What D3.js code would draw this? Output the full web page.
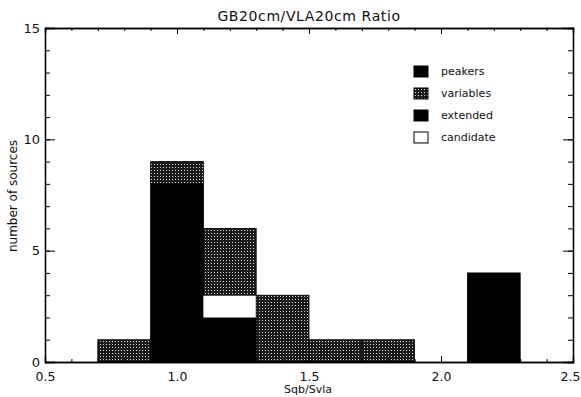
<!DOCTYPE html>
<html>
<head>
<meta charset="utf-8">
<script src="https://cdn.jsdelivr.net/npm/d3@7"></script>
<style>
  body { margin: 0; background: #fff; }
  text { font-family: "DejaVu Sans", sans-serif; fill: #111; }
</style>
</head>
<body>
<div class="chart"></div>
<script>
// Chart size
var svgWidth = 581;
var svgHeight = 397;

var margin = { top: 28, right: 9, bottom: 35, left: 45 };
var width = 573 - margin.left;
var height = 362 - margin.top;

// Histogram bins (Sgb/Svla ratio)
var binStart = [0.7, 0.9, 1.1, 1.3, 1.5, 1.7, 1.9, 2.1];
var binEnd   = [0.9, 1.1, 1.3, 1.5, 1.7, 1.9, 2.1, 2.3];

// counts per class, stacked bottom to top in this order
var peakers   = [0, 8, 2, 0, 0, 0, 0, 0];
var extended  = [0, 0, 0, 0, 0, 0, 0, 4];
var candidate = [0, 0, 1, 0, 0, 0, 0, 0];
var variables = [1, 1, 3, 3, 1, 1, 0, 0];

var legendNames = ["peakers", "variables", "extended", "candidate"];
var xTicks = [0.5, 1.0, 1.5, 2.0, 2.5];
var yTicks = [0, 5, 10, 15];

var svg = d3.select(".chart")
  .append("svg")
  .attr("width", svgWidth)
  .attr("height", svgHeight);

// stipple pattern for the variables
var defs = svg.append("defs");
var pat = defs.append("pattern")
  .attr("id", "stipple")
  .attr("patternUnits", "userSpaceOnUse")
  .attr("width", 3)
  .attr("height", 3);
pat.append("rect").attr("width", 3).attr("height", 3).attr("fill", "#1a1a1a");
pat.append("rect").attr("x", 1).attr("y", 1).attr("width", 1).attr("height", 1).attr("fill", "#d8d8d8");

var fills = {
  peakers: "#000",
  extended: "#000",
  candidate: "#fff",
  variables: "url(#stipple)"
};

var chartGroup = svg.append("g")
  .attr("transform", `translate(${margin.left}, ${margin.top})`);

var xScale = d3.scaleLinear().domain([0.5, 2.5]).range([0, width]);
var yScale = d3.scaleLinear().domain([0, 15]).range([height, 0]);

// build stacked table
var table = binStart.map(function(b, i) {
  return { x0: b, x1: binEnd[i], peakers: peakers[i], extended: extended[i],
           candidate: candidate[i], variables: variables[i] };
});
var stack = d3.stack().keys(["peakers", "extended", "candidate", "variables"]);
var layers = stack(table);

layers.forEach(function(layer) {
  chartGroup.selectAll(null)
    .data(layer.filter(d => d[1] > d[0]))
    .enter()
    .append("rect")
    .attr("x", d => xScale(d.data.x0))
    .attr("width", d => xScale(d.data.x1) - xScale(d.data.x0))
    .attr("y", d => yScale(d[1]))
    .attr("height", d => yScale(d[0]) - yScale(d[1]))
    .attr("fill", fills[layer.key])
    .attr("stroke", layer.key === "candidate" ? "none" : "#000")
    .attr("stroke-width", 0.8);
});

// axes with IDL style box ticks
var xMinor = d3.range(5, 26).map(d => d / 10);
var yMinor = d3.range(0, 16);

function drawAxis(axis, transform) {
  var g = chartGroup.append("g").attr("transform", transform).call(axis);
  g.select(".domain").attr("stroke", "#000").attr("stroke-width", 1.3);
  g.selectAll(".tick line").attr("stroke", "#000").attr("stroke-width", 1);
  return g;
}

// bottom minor + major
drawAxis(d3.axisBottom(xScale).tickValues(xMinor).tickSize(-3).tickFormat(""), `translate(0,${height})`);
var xAxis = drawAxis(d3.axisBottom(xScale).tickValues(xTicks).tickSize(-6).tickPadding(10)
  .tickFormat(d3.format(".1f")), `translate(0,${height})`);
xAxis.selectAll("text").attr("font-size", 12.5);
// last label sits at the page edge, nudge it in
xAxis.selectAll("text").filter(d => d === 2.5).attr("dx", -3);

// top
drawAxis(d3.axisTop(xScale).tickValues(xMinor).tickSize(-3).tickFormat(""), "translate(0,0)");
drawAxis(d3.axisTop(xScale).tickValues(xTicks).tickSize(-6).tickFormat(""), "translate(0,0)");

// left
drawAxis(d3.axisLeft(yScale).tickValues(yMinor).tickSize(-5).tickFormat(""), "translate(0,0)");
var yAxis = drawAxis(d3.axisLeft(yScale).tickValues(yTicks).tickSize(-10).tickPadding(6)
  .tickFormat(d3.format("d")), "translate(0,0)");
yAxis.selectAll("text").attr("font-size", 13).attr("x", -5);

// right
drawAxis(d3.axisRight(yScale).tickValues(yMinor).tickSize(-5).tickFormat(""), `translate(${width},0)`);
drawAxis(d3.axisRight(yScale).tickValues(yTicks).tickSize(-10).tickFormat(""), `translate(${width},0)`);

// title and axis labels
svg.append("text")
  .attr("x", 309)
  .attr("y", 21)
  .attr("text-anchor", "middle")
  .attr("font-size", 14)
  .attr("letter-spacing", 0.6)
  .text("GB20cm/VLA20cm Ratio");

svg.append("text")
  .attr("x", 308)
  .attr("y", 393)
  .attr("text-anchor", "middle")
  .attr("font-size", 11)
  .text("Sqb/Svla");

svg.append("text")
  .attr("transform", "translate(17, 196) rotate(-90)")
  .attr("text-anchor", "middle")
  .attr("font-size", 12)
  .text("number of sources");

// legend
var legend = svg.append("g").attr("transform", "translate(414, 66)");
var legendFill = { peakers: "#000", variables: "url(#stipple)", extended: "#000", candidate: "#fff" };
var rows = legend.selectAll("g")
  .data(legendNames)
  .enter()
  .append("g")
  .attr("transform", (d, i) => `translate(0, ${i * 22})`);
rows.append("rect")
  .attr("width", 14)
  .attr("height", 11)
  .attr("fill", d => legendFill[d])
  .attr("stroke", "#000")
  .attr("stroke-width", 1);
rows.append("text")
  .attr("x", 27)
  .attr("y", 9)
  .attr("font-size", 11)
  .text(d => d);
</script>
</body>
</html>
